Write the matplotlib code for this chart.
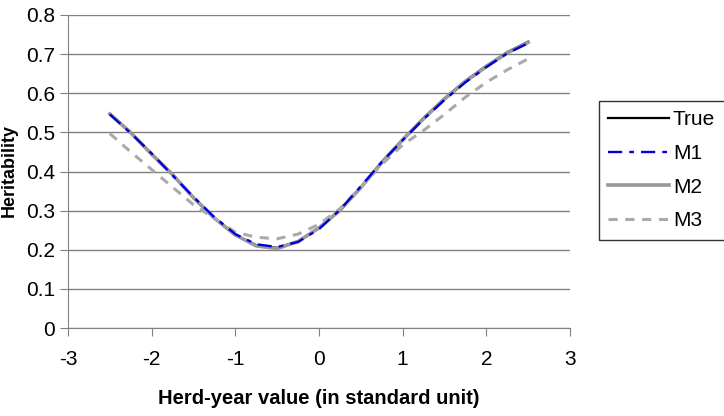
import numpy as np
import matplotlib.pyplot as plt

plt.rcParams['font.family'] = ['Liberation Sans', 'DejaVu Sans']
plt.rcParams['axes.unicode_minus'] = False

# herd-year value (standard units)
x = [-2.5, -2.25, -2.0, -1.75, -1.5, -1.25, -1.0, -0.75, -0.5, -0.25, 0.0,
     0.25, 0.5, 0.75, 1.0, 1.25, 1.5, 1.75, 2.0, 2.25, 2.5]

h_true = [0.548, 0.500, 0.445, 0.393, 0.332, 0.280, 0.237, 0.212, 0.205, 0.222, 0.255,
          0.300, 0.360, 0.425, 0.482, 0.537, 0.587, 0.632, 0.670, 0.705, 0.732]
h_m1 = [0.546, 0.498, 0.446, 0.390, 0.335, 0.283, 0.240, 0.214, 0.207, 0.220, 0.253,
        0.302, 0.362, 0.424, 0.480, 0.534, 0.583, 0.628, 0.667, 0.702, 0.728]
h_m2 = [0.547, 0.499, 0.444, 0.392, 0.333, 0.281, 0.238, 0.210, 0.203, 0.221, 0.256,
        0.301, 0.359, 0.423, 0.481, 0.535, 0.585, 0.630, 0.668, 0.703, 0.730]
h_m3 = [0.497, 0.450, 0.405, 0.360, 0.315, 0.280, 0.245, 0.232, 0.228, 0.240, 0.265,
        0.305, 0.360, 0.418, 0.468, 0.505, 0.546, 0.590, 0.628, 0.660, 0.688]

fig = plt.figure(figsize=(7.24, 4.16), dpi=100)
ax = fig.add_axes([68 / 724, 1 - 328 / 416, (570 - 68) / 724, (328 - 15) / 416])

ax.plot(x, h_true, color='black', lw=1.6, label='True', zorder=3)
ax.plot(x, h_m2, color='#999999', lw=2.6, label='M2', zorder=3)
ax.plot(x, h_m1, color='#0000dd', lw=1.7, dashes=[6, 3, 2, 3], label='M1', zorder=4)
ax.plot(x, h_m3, color='#aaaaaa', lw=2.2, dashes=[3, 2.5], label='M3', zorder=3)

ax.set_xlim(-3, 3)
ax.set_ylim(0, 0.8)
ax.set_xticks(range(-3, 4))
ax.set_yticks(np.arange(0, 0.81, 0.1))
ax.set_yticklabels(['0', '0.1', '0.2', '0.3', '0.4', '0.5', '0.6', '0.7', '0.8'])
ax.grid(axis='y', color='#808080', lw=1)
ax.set_axisbelow(True)
for s in ['top', 'right']:
    ax.spines[s].set_visible(False)
for s in ['left', 'bottom']:
    ax.spines[s].set_color('#808080')
ax.tick_params(colors='#808080', labelcolor='black', labelsize=15, length=6)
ax.tick_params(axis='x', pad=10)

ax.set_xlabel('Herd-year value (in standard unit)', fontsize=14.5, fontweight='bold', labelpad=14)
fig.text(1 / 724, 0.59, 'Heritability', rotation=90, ha='left', va='center',
         fontsize=13, fontweight='bold')

handles, labels = ax.get_legend_handles_labels()
order = [labels.index(k) for k in ['True', 'M1', 'M2', 'M3']]
leg = ax.legend([handles[i] for i in order], [labels[i] for i in order],
                loc='upper left', bbox_to_anchor=(599 / 724, 1 - 101 / 416),
                bbox_transform=fig.transFigure, borderaxespad=0, frameon=True,
                fancybox=False, edgecolor='black', fontsize=15, handlelength=2.9,
                labelspacing=0.7, handletextpad=0.2, borderpad=0.45)
leg.get_frame().set_linewidth(1)

fig.savefig('out.png', dpi=100)
